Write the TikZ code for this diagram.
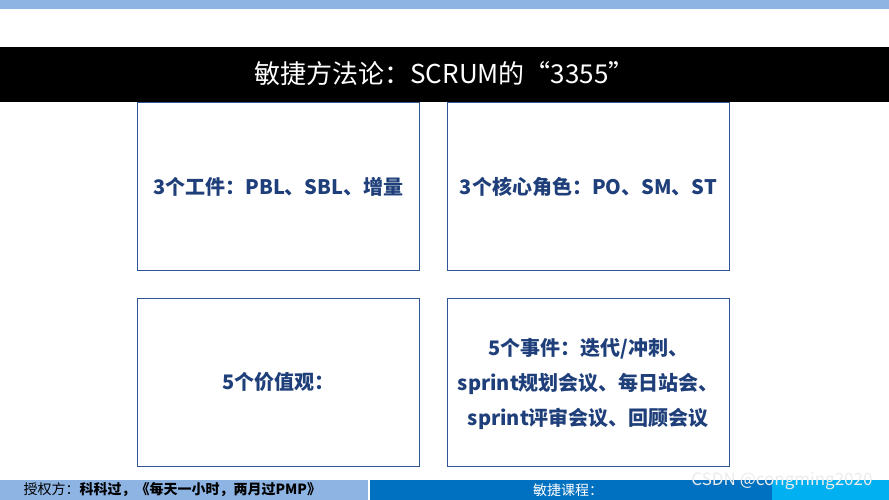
\documentclass[tikz,border=0pt]{standalone}
\usepackage{fontspec}
\setmainfont{Noto Sans CJK SC}
\definecolor{lblue}{HTML}{8EB4E3}
\definecolor{mblue}{HTML}{0070C0}
\definecolor{cblue}{HTML}{00B0F0}
\definecolor{bcol}{HTML}{2F5597}
\definecolor{tcol}{HTML}{1F3F7A}
\begin{document}
\begin{tikzpicture}[x=1pt,y=-1pt,
  card/.style={draw=bcol,line width=0.8pt,fill=white,minimum width=282pt,minimum height=168pt,anchor=north west,inner sep=0pt},
  cardtext/.style={font=\bfseries\fontsize{20}{35}\selectfont,text=tcol,align=center}]
\useasboundingbox (0,0) rectangle (889,500);
\fill[white] (0,0) rectangle (889,500);
\fill[lblue] (0,0) rectangle (889,9);
\fill[black] (0,47) rectangle (889,102);
\node[text=white,font=\fontsize{26}{28}\selectfont] (title) at (444.5,74) {敏捷方法论：SCRUM的“3355”};
\node[card] (b1) at (137,102) {};
\node[card] (b2) at (447,102) {};
\node[card] (b3) at (137,298) {};
\node[card] (b4) at (447,298) {};
\node[cardtext] (t1) at (b1.center) {3个工件：PBL、SBL、增量};
\node[cardtext] (t2) at (b2.center) {3个核心角色：PO、SM、ST};
\node[cardtext] (t3) at (b3.center) {5个价值观：};
\node[cardtext] (t4) at ([yshift=-2pt]b4.center) {5个事件：迭代/冲刺、\\sprint规划会议、每日站会、\\sprint评审会议、回顾会议};
\fill[lblue] (0,480) rectangle (368,500);
\fill[mblue] (370,480) rectangle (772,500);
\fill[cblue] (772,480) rectangle (889,500);
\node[anchor=west,font=\fontsize{14}{15}\selectfont] (f1) at (20,490) {授权方：\textbf{科科过，《每天一小时，两月过PMP》}};
\node[text=white,font=\fontsize{14}{15}\selectfont] (f2) at (568,490) {敏捷课程：};
\node[anchor=east,text=white!85!gray,font=\fontsize{17}{17}\selectfont] (wm) at (876,481) {CSDN @congming2020};
\end{tikzpicture}
\end{document}
